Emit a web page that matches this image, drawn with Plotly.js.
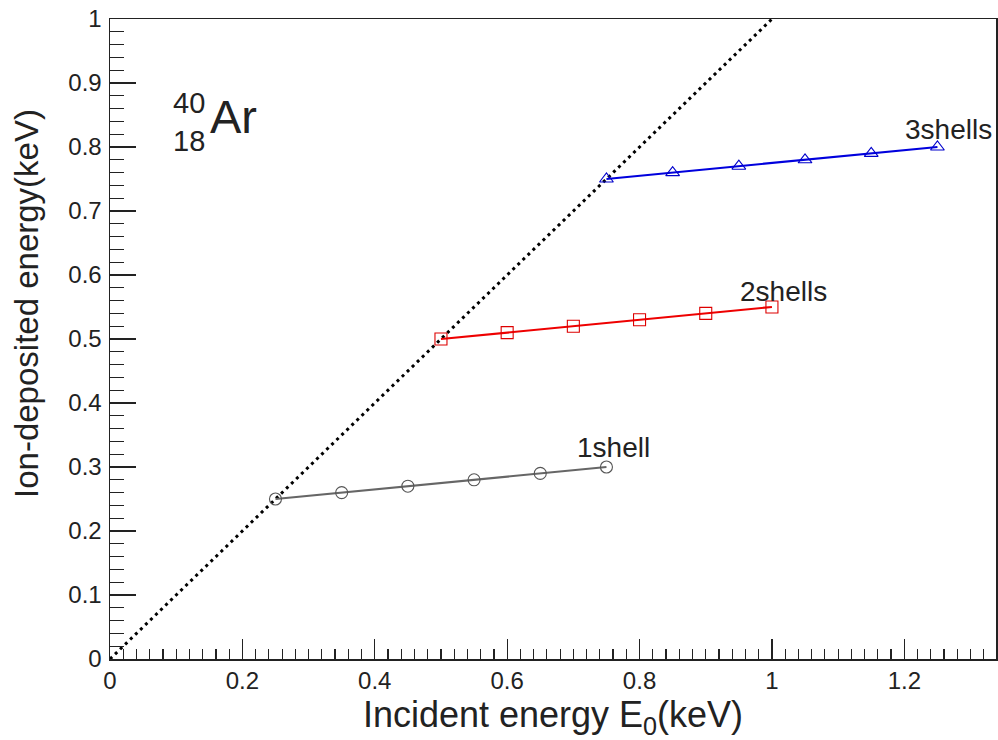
<!DOCTYPE html>
<html>
<head>
<meta charset="utf-8">
<script src="https://cdn.plot.ly/plotly-3.0.1.min.js"></script>
<style>html,body{margin:0;padding:0;background:#fff;}#chart{width:998px;height:740px;}</style>
</head>
<body>
<div id="chart"></div>
<script>
// ---- data ----
const diagX = [0, 1];
const diagY = [0, 1];
const shell1X = [0.25, 0.35, 0.45, 0.55, 0.65, 0.75];
const shell1Y = [0.25, 0.26, 0.27, 0.28, 0.29, 0.30];
const shell2X = [0.5, 0.6, 0.7, 0.8, 0.9, 1.0];
const shell2Y = [0.50, 0.51, 0.52, 0.53, 0.54, 0.55];
const shell3X = [0.75, 0.85, 0.95, 1.05, 1.15, 1.25];
const shell3Y = [0.75, 0.76, 0.77, 0.78, 0.79, 0.80];
const seriesLabels = ["1shell", "2shells", "3shells"];
const xTitle = "Incident energy E<sub>0</sub>(keV)";
const yTitle = "Ion-deposited energy(keV)";

const FONT = "Liberation Sans, Arial, Helvetica, sans-serif";
const AX = "#222222";

const traces = [
  {x: diagX, y: diagY, mode: "lines", line: {color: "#000", width: 3, dash: "3px,4px"}, hoverinfo: "skip"},
  {x: shell1X, y: shell1Y, mode: "lines+markers", name: seriesLabels[0],
   line: {color: "#666666", width: 2.2},
   marker: {symbol: "circle-open", size: 12, color: "#555555", line: {width: 1.1}}},
  {x: shell2X, y: shell2Y, mode: "lines+markers", name: seriesLabels[1],
   line: {color: "#ee0000", width: 2.2},
   marker: {symbol: "square-open", size: 12, color: "#dd0000", line: {width: 1.1}}},
  {x: shell3X, y: shell3Y, mode: "lines+markers", name: seriesLabels[2],
   line: {color: "#0000dd", width: 2.2},
   marker: {symbol: "triangle-up-open", size: 12, color: "#0000cc", line: {width: 1.1}}}
];

const layout = {
  width: 998, height: 740,
  margin: {l: 110, r: 2, t: 19, b: 81},
  paper_bgcolor: "#fff", plot_bgcolor: "#fff",
  showlegend: false,
  font: {family: FONT, color: AX},
  xaxis: {
    range: [0, 1.3385], dtick: 0.2, tick0: 0,
    ticks: "inside", ticklen: 20, tickwidth: 1.2, tickcolor: AX,
    minor: {dtick: 0.02, ticks: "inside", ticklen: 10, tickwidth: 1.2, tickcolor: AX},
    showline: true, linecolor: AX, linewidth: 1.5, mirror: true,
    showgrid: false, zeroline: false,
    tickfont: {size: 24, family: FONT, color: AX},
    title: {text: xTitle, font: {size: 36, family: FONT, color: AX}, standoff: 2}
  },
  yaxis: {
    range: [0, 1], dtick: 0.1, tick0: 0,
    ticks: "inside", ticklen: 26, tickwidth: 1.2, tickcolor: AX,
    minor: {dtick: 0.02, ticks: "inside", ticklen: 14, tickwidth: 1.2, tickcolor: AX},
    showline: true, linecolor: AX, linewidth: 1.5, mirror: true,
    showgrid: false, zeroline: false,
    tickfont: {size: 24, family: FONT, color: AX},
    ticklabelstandoff: 2
  },
  annotations: [
    {text: yTitle, xref: "paper", yref: "paper", x: -0.0935, y: 0.555, textangle: -90,
     showarrow: false, font: {size: 33, family: FONT, color: AX}, xanchor: "center", yanchor: "middle"},
    {text: seriesLabels[0], xref: "x", yref: "y", x: 0.7024, y: 0.330, showarrow: false,
     xanchor: "left", yanchor: "middle", font: {size: 28, family: FONT, color: AX}},
    {text: seriesLabels[1], xref: "x", yref: "y", x: 0.9486, y: 0.575, showarrow: false,
     xanchor: "left", yanchor: "middle", font: {size: 28, family: FONT, color: AX}},
    {text: seriesLabels[2], xref: "x", yref: "y", x: 1.198, y: 0.828, showarrow: false,
     xanchor: "left", yanchor: "middle", font: {size: 28, family: FONT, color: AX}},
    {text: "Ar", xref: "paper", yref: "paper", x: (208 - 110) / 886, y: (659 - 116) / 640, showarrow: false,
     xanchor: "left", yanchor: "middle", font: {size: 47, family: FONT, color: AX}},
    {text: "40", xref: "paper", yref: "paper", x: (207 - 110) / 886, y: (659 - 103) / 640, showarrow: false,
     xanchor: "right", yanchor: "middle", font: {size: 29, family: FONT, color: AX}},
    {text: "18", xref: "paper", yref: "paper", x: (207 - 110) / 886, y: (659 - 141) / 640, showarrow: false,
     xanchor: "right", yanchor: "middle", font: {size: 29, family: FONT, color: AX}}
  ]
};

Plotly.newPlot("chart", traces, layout, {displayModeBar: false, staticPlot: true});
</script>
</body>
</html>
